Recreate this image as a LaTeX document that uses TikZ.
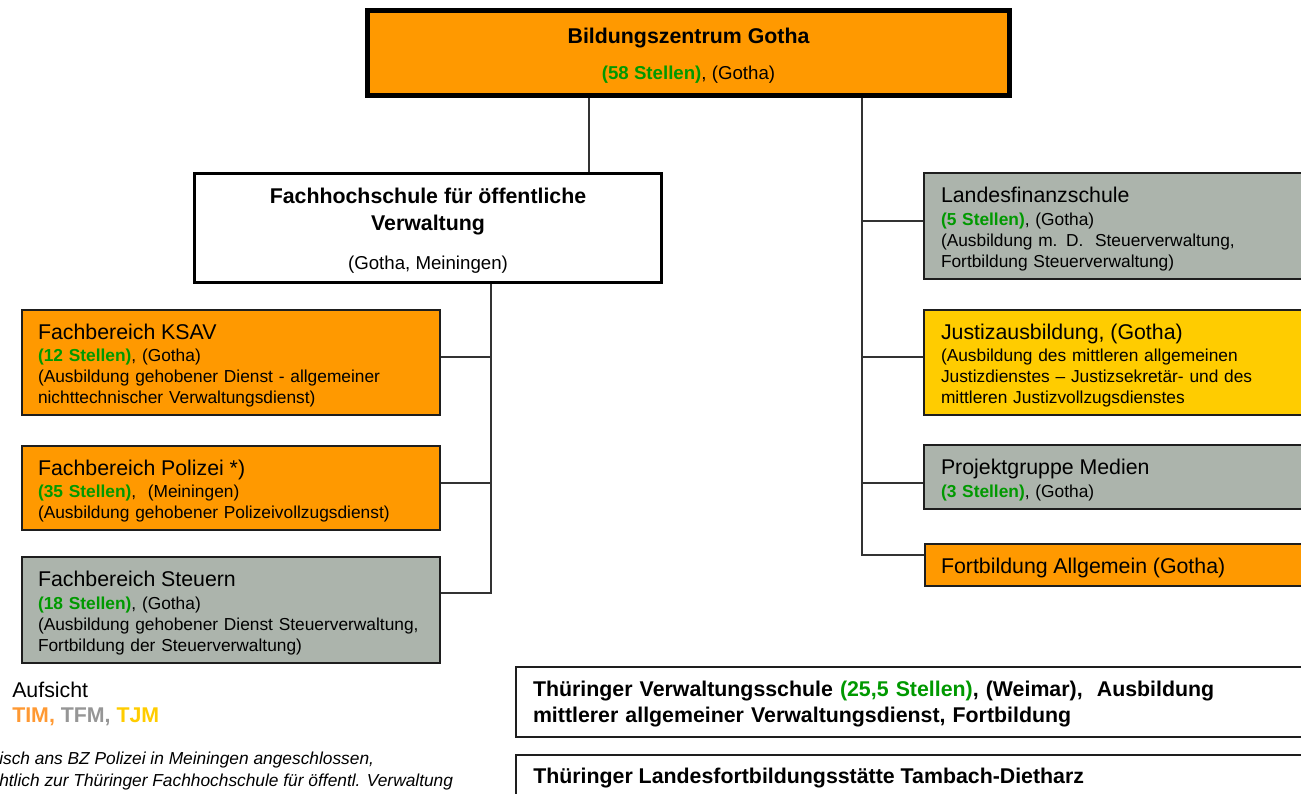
\documentclass[tikz,border=0pt]{standalone}
\usepackage{fontspec}
\setmainfont{Liberation Sans}
\definecolor{bzorange}{RGB}{255,153,0}
\definecolor{bzgray}{RGB}{172,180,172}
\definecolor{bzyellow}{RGB}{255,204,0}
\definecolor{stgreen}{RGB}{0,153,0}
\definecolor{boxline}{RGB}{30,30,30}
\definecolor{connline}{RGB}{50,50,50}
\definecolor{timorange}{RGB}{255,153,51}
\definecolor{tfmgray}{RGB}{150,150,150}
\definecolor{tjmyellow}{RGB}{255,204,0}
\newcommand{\gr}[1]{\textcolor{stgreen}{\bfseries #1}}
\newcommand{\ttl}[1]{{\fontsize{16}{16}\selectfont\rule{0pt}{16pt}#1}}
\begin{document}
\begin{tikzpicture}[x=0.75pt,y=-0.75pt,
  sz/.style 2 args={minimum width=#1*0.75pt, minimum height=#2*0.75pt},
  box/.style={draw=boxline, line width=1.5pt, rectangle, inner ysep=0pt, align=left,
    font=\fontsize{13}{15.75}\selectfont},
  lbox/.style={box, inner xsep=12pt, text width=289.5pt},
  rbox/.style={box, inner xsep=12.75pt, text width=271.5pt},
  conn/.style={draw=connline, line width=0.9pt},
  plain/.style={inner sep=0pt, anchor=west}]
\useasboundingbox (0,0) rectangle (1301,793);
\clip (0,0) rectangle (1301,793);

% top
\node[draw=black, line width=3.75pt, fill=bzorange, sz={642}{84.5}, align=center,
  font=\fontsize{14}{16.8}\selectfont] (bz) at (688.5,52.75)
  {{\fontsize{16}{16}\selectfont\bfseries\rule{0pt}{16pt}Bildungszentrum Gotha}\\[10.2pt]\gr{(58 Stellen)}, (Gotha)};

% FH
\node[draw=black, line width=2.25pt, fill=white, sz={467}{109}, align=center,
  font=\fontsize{16}{20.25}\selectfont\bfseries] (fh) at (428,228)
  {\rule{0pt}{16pt}Fachhochschule für öffentliche\\Verwaltung\\[9pt]{\mdseries\fontsize{14}{16.8}\selectfont (Gotha, Meiningen)}};

% left children
\node[lbox, fill=bzorange, sz={418}{105}] (ksav) at (231,362.5)
  {\ttl{Fachbereich KSAV}\\[1.25pt]
   \gr{(12 Stellen)}, (Gotha)\\
   (Ausbildung gehobener Dienst - allgemeiner\\
   nichttechnischer Verwaltungsdienst)};
\node[lbox, fill=bzorange, sz={418}{84}] (pol) at (231,488)
  {\ttl{Fachbereich Polizei *)}\\[1.25pt]
   \gr{(35 Stellen)},~~(Meiningen)\\
   (Ausbildung gehobener Polizeivollzugsdienst)};
\node[lbox, fill=bzgray, sz={418}{106}] (steu) at (231,610)
  {\ttl{Fachbereich Steuern}\\[1.25pt]
   \gr{(18 Stellen)}, (Gotha)\\
   (Ausbildung gehobener Dienst Steuerverwaltung,\\
   Fortbildung der Steuerverwaltung)};

% right children
\node[rbox, fill=bzgray, sz={396}{106}] (lfs) at (1122,226)
  {\ttl{Landesfinanzschule}\\[1.25pt]
   \gr{(5 Stellen)}, (Gotha)\\
   (Ausbildung m. D.~~Steuerverwaltung,\\
   Fortbildung Steuerverwaltung)};
\node[rbox, fill=bzyellow, sz={396}{105}] (just) at (1122,362.5)
  {\ttl{Justizausbildung, (Gotha)}\\[1.25pt]
   (Ausbildung des mittleren allgemeinen\\
   Justizdienstes – Justizsekretär- und des\\
   mittleren Justizvollzugsdienstes};
\node[rbox, fill=bzgray, sz={396}{64}] (proj) at (1122,477)
  {\ttl{Projektgruppe Medien}\\[1.25pt]
   \gr{(3 Stellen)}, (Gotha)};
\node[box, inner xsep=12pt, text width=273pt, fill=bzorange, sz={396}{42}] (fort) at (1123,565)
  {\ttl{Fortbildung Allgemein (Gotha)}};

% bottom boxes
\node[box, fill=white, sz={804}{70}, inner xsep=12.75pt, text width=577.5pt,
  font=\fontsize{16}{19.5}\selectfont\bfseries] (tvs) at (918,702)
  {\rule{0pt}{15pt}Thüringer Verwaltungsschule \textcolor{stgreen}{(25,5 Stellen)}, (Weimar),~~Ausbildung\\
   mittlerer allgemeiner Verwaltungsdienst, Fortbildung};
\node[draw=boxline, line width=1.5pt, fill=white, sz={804}{75}] (tamb) at (918,792.5) {};
\node[plain, font=\fontsize{16}{16}\selectfont\bfseries] (tambt) at (533,778.5)
  {Thüringer Landesfortbildungsstätte Tambach-Dietharz};

% legend
\node[plain, font=\fontsize{16}{16}\selectfont] (aufs) at (12,690) {Aufsicht};
\node[plain, font=\fontsize{16}{16}\selectfont\bfseries] (aufm) at (12,716.5)
  {\textcolor{timorange}{TIM,} \textcolor{tfmgray}{TFM,} \textcolor{tjmyellow}{TJM}};
\node[plain, font=\fontsize{13}{13}\selectfont\itshape] (fn1) at (-1,760)
  {isch ans BZ Polizei in Meiningen angeschlossen,};
\node[plain, font=\fontsize{13}{13}\selectfont\itshape] (fn2) at (-1,782)
  {htlich zur Thüringer Fachhochschule für öffentl. Verwaltung};

% connectors
\coordinate (jT) at (589,135);
\draw[conn] (bz.south -| jT) -- (fh.north -| jT);
\coordinate (jL) at (491,593);
\coordinate (jL1) at (491,357);
\coordinate (jL2) at (491,483);
\draw[conn] (fh.south -| jL) -- (jL) -- (steu.east |- jL);
\draw[conn] (ksav.east |- jL1) -- (jL1);
\draw[conn] (pol.east |- jL2) -- (jL2);
\coordinate (jR) at (862,555);
\coordinate (jR1) at (862,221);
\coordinate (jR2) at (862,357);
\coordinate (jR3) at (862,483);
\draw[conn] (bz.south -| jR) -- (jR) -- (fort.west |- jR);
\draw[conn] (jR1) -- (lfs.west |- jR1);
\draw[conn] (jR2) -- (just.west |- jR2);
\draw[conn] (jR3) -- (proj.west |- jR3);
\end{tikzpicture}
\end{document}
